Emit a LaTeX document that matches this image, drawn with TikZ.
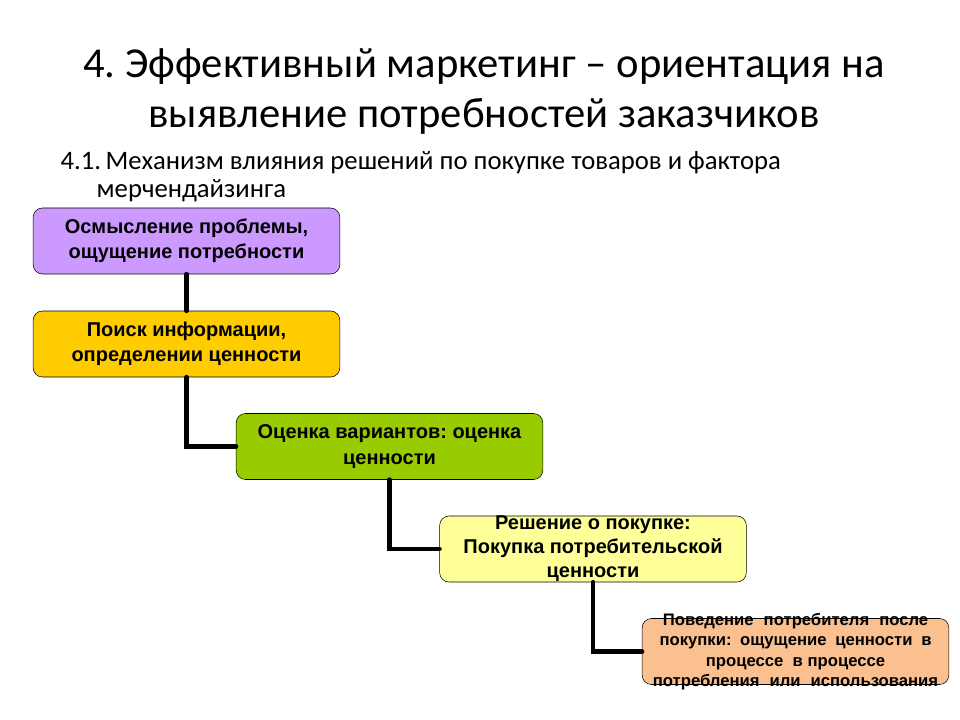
\documentclass[tikz,border=0pt]{standalone}
\usepackage{fontspec}
\setmainfont{Carlito}
\newfontfamily\boxfont{Liberation Sans}
\definecolor{lilac}{RGB}{204,153,255}
\definecolor{gold}{RGB}{255,204,0}
\definecolor{grass}{RGB}{153,204,0}
\definecolor{paleyellow}{RGB}{255,255,153}
\definecolor{peach}{RGB}{250,192,144}
\frenchspacing
\tikzset{
	stage/.style={draw=black, rounded corners=7pt, minimum width=230pt, minimum height=49.5pt,
		inner sep=0pt, align=center, font=\boxfont\bfseries\fontsize{15}{19}\selectfont},
	link/.style={line width=3.6pt, line join=miter}
}
\begin{document}
\begin{tikzpicture}[x=0.75pt, y=-0.75pt, line join=round, line cap=round]
			\useasboundingbox (0,0) rectangle (960,720);
			\node[font=\fontsize{32}{37.5}\selectfont, align=center] (title) at (484,92)
				{4. Эффективный маркетинг – ориентация на\\выявление потребностей заказчиков};
			\node[font=\fontsize{20}{21}\selectfont, align=left, anchor=north west] (subtitle) at (56,147)
				{4.1.\,Механизм влияния решений по покупке товаров и фактора\\\hspace*{27pt}мерчендайзинга};
			\node[stage, fill=lilac] (smysl) at (186.5,241) {Осмысление проблемы,\\ощущение потребности};
			\node[stage, fill=gold] (poisk) at (186.5,344) {Поиск информации,\\определении ценности};
			\node[stage, fill=grass] (ocenka) at (389.5,446.5) {Оценка вариантов: оценка\\ценности};
			\node[stage, fill=paleyellow, font=\boxfont\bfseries\fontsize{15}{18}\selectfont] (reshenie) at (593,549)
				{Решение о покупке:\\Покупка потребительской\\ценности};
			\node[stage, fill=peach] (povedenie) at (795.5,651.5) {};
			\node[font=\boxfont\bfseries\fontsize{12.5}{15.4}\selectfont, align=center] (povedtext) at (povedenie.center)
				{\makebox[199pt][s]{Поведение потребителя после}\\
				 \makebox[204pt][s]{покупки: ощущение ценности в}\\
				 процессе\ \ в процессе\\
				 \makebox[214pt][s]{потребления или использования}};
			\draw[link] (smysl) -- (poisk);
			\foreach \a/\b in {poisk/ocenka, ocenka/reshenie, reshenie/povedenie}{
				\draw[link] (\a) |- (\b);
			}
		\end{tikzpicture}
\end{document}
